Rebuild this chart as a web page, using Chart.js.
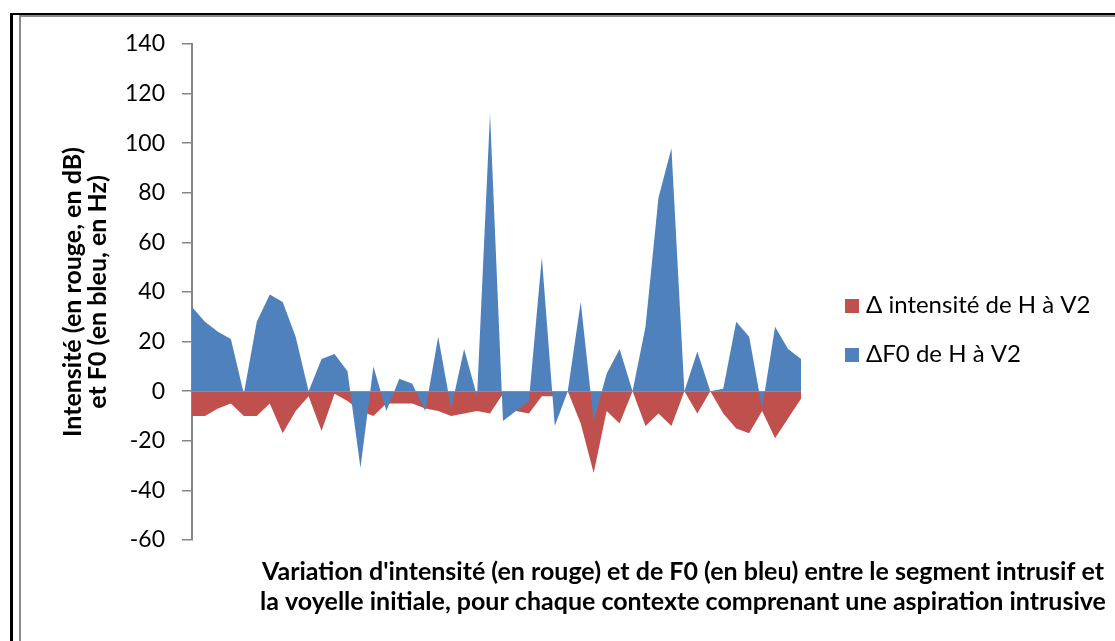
<!DOCTYPE html>
<html lang="fr">
<head>
<meta charset="utf-8">
<title>Variation d'intensité et de F0</title>
<script src="https://cdn.jsdelivr.net/npm/chart.js@4.4.1/dist/chart.umd.min.js"></script>
<style>
  html, body { margin: 0; padding: 0; background: #ffffff; }
  #page { position: relative; width: 1115px; height: 641px; overflow: hidden; }
  .frame-outer { position: absolute; left: 10px; top: 13px; width: 2000px; height: 2000px;
    border-left: 3px solid #000; border-top: 2px solid #000; }
  .frame-inner { position: absolute; left: 19px; top: 15px; width: 2000px; height: 2000px;
    border-left: 2px solid #8a8a8a; border-top: 2px solid #8a8a8a; }
  #chart { position: absolute; left: 0; top: 0; }
</style>
</head>
<body>
<div id="page">
  <div class="frame-outer"></div>
  <div class="frame-inner"></div>
  <canvas id="chart" width="1115" height="641"></canvas>
</div>
<script>
// One category per context containing an intrusive aspiration
const contexts = ['1','2','3','4','5','6','7','8','9','10','11','12','13','14','15','16',
  '17','18','19','20','21','22','23','24','25','26','27','28','29','30','31','32',
  '33','34','35','36','37','38','39','40','41','42','43','44','45','46','47','48'];

// Δ intensité de H à V2 (dB)
const deltaIntensity = [-10, -10, -7, -5, -10, -10, -5, -17, -8, -2, -16, -1,
  -4, -8, -10, -5, -5, -5, -7, -8, -10, -9, -8, -9,
  -1, -8, -9, -2, -2, 0, -13, -33, -8, -13, 0, -14,
  -9, -14, 0, -9, 0, -9, -15, -17, -8, -19, -11, -3];

// ΔF0 de H à V2 (Hz)
const deltaF0 = [34, 28, 24, 21, -1, 28, 39, 36, 22, 0, 13, 15,
  8, -31, 10, -8, 5, 3, -8, 22, -7, 17, -2, 112,
  -12, -8, -4, 54, -14, 0, 36, -12, 7, 17, 0, 26,
  78, 98, 0, 16, 0, 1, 28, 22, -7, 26, 17, 13];

const seriesNames = ['\u0394 intensité de H à V2', '\u0394F0 de H à V2'];
const seriesColors = ['#C0504D', '#4F81BD'];

const yTickValues = [-60, -40, -20, 0, 20, 40, 60, 80, 100, 120, 140];

const yTitleLines = ['Intensité (en rouge, en dB)', 'et F0 (en bleu, en Hz)'];
const xTitleLines = [
  "Variation d'intensité (en rouge) et de F0 (en bleu) entre le segment intrusif et",
  "la voyelle initiale, pour chaque contexte comprenant une aspiration intrusive"
];

const FONT = 'Lato, "Open Sans", "Liberation Sans", sans-serif';

// Zero line, horizontal axis title and the side legend
const decorations = {
  id: 'decorations',
  afterDatasetsDraw(chart) {
    const {ctx, chartArea, scales} = chart;
    const y0 = Math.round(scales.y.getPixelForValue(0)) + 0.5;
    ctx.save();
    ctx.strokeStyle = '#8e8e8e';
    ctx.lineWidth = 1;
    ctx.beginPath();
    ctx.moveTo(chartArea.left, y0);
    ctx.lineTo(chartArea.right, y0);
    ctx.stroke();
    ctx.restore();
  },
  afterDraw(chart) {
    const ctx = chart.ctx;
    ctx.save();
    ctx.fillStyle = '#000000';
    ctx.textBaseline = 'alphabetic';

    // horizontal axis title
    ctx.font = 'bold 25px ' + FONT;
    ctx.textAlign = 'center';
    xTitleLines.forEach((line, i) => ctx.fillText(line, 683, 580 + i * 30));

    // legend
    ctx.font = '24px ' + FONT;
    ctx.textAlign = 'left';
    chart.data.datasets.forEach((ds, i) => {
      const top = 299 + i * 49;
      ctx.fillStyle = ds.backgroundColor;
      ctx.fillRect(845, top, 14, 14);
      ctx.fillStyle = '#000000';
      ctx.fillText(ds.label, 866, top + 14);
    });
    ctx.restore();
  }
};

new Chart(document.getElementById('chart'), {
  type: 'line',
  data: {
    labels: contexts,
    datasets: [
      {
        label: seriesNames[0],
        data: deltaIntensity,
        backgroundColor: seriesColors[0],
        borderColor: 'rgba(0,0,0,0)',
        borderWidth: 0,
        pointRadius: 0,
        pointHoverRadius: 0,
        tension: 0,
        fill: 'origin',
        order: 2
      },
      {
        label: seriesNames[1],
        data: deltaF0,
        backgroundColor: seriesColors[1],
        borderColor: 'rgba(0,0,0,0)',
        borderWidth: 0,
        pointRadius: 0,
        pointHoverRadius: 0,
        tension: 0,
        fill: 'origin',
        order: 1
      }
    ]
  },
  options: {
    responsive: false,
    animation: false,
    events: [],
    layout: { padding: { left: 20, top: 44, right: 314, bottom: 101 } },
    plugins: {
      legend: { display: false },
      tooltip: { enabled: false },
      title: { display: false }
    },
    scales: {
      x: {
        type: 'category',
        display: false,
        offset: false
      },
      y: {
        min: yTickValues[0],
        max: yTickValues[yTickValues.length - 1],
        afterFit(scale) { scale.width = 172; },
        afterBuildTicks(scale) { scale.ticks = yTickValues.map(v => ({ value: v })); },
        ticks: {
          color: '#000000',
          font: { family: FONT, size: 23 },
          padding: 17
        },
        grid: {
          display: true,
          drawOnChartArea: false,
          drawTicks: true,
          tickLength: 10,
          color: '#868686',
          lineWidth: 1.5
        },
        border: { display: true, color: '#868686', width: 2 },
        title: {
          display: true,
          text: yTitleLines,
          color: '#000000',
          font: { family: FONT, size: 25, weight: 'bold', lineHeight: 1.0 },
          padding: { top: 40, bottom: 0 }
        }
      }
    }
  },
  plugins: [decorations]
});
</script>
</body>
</html>
